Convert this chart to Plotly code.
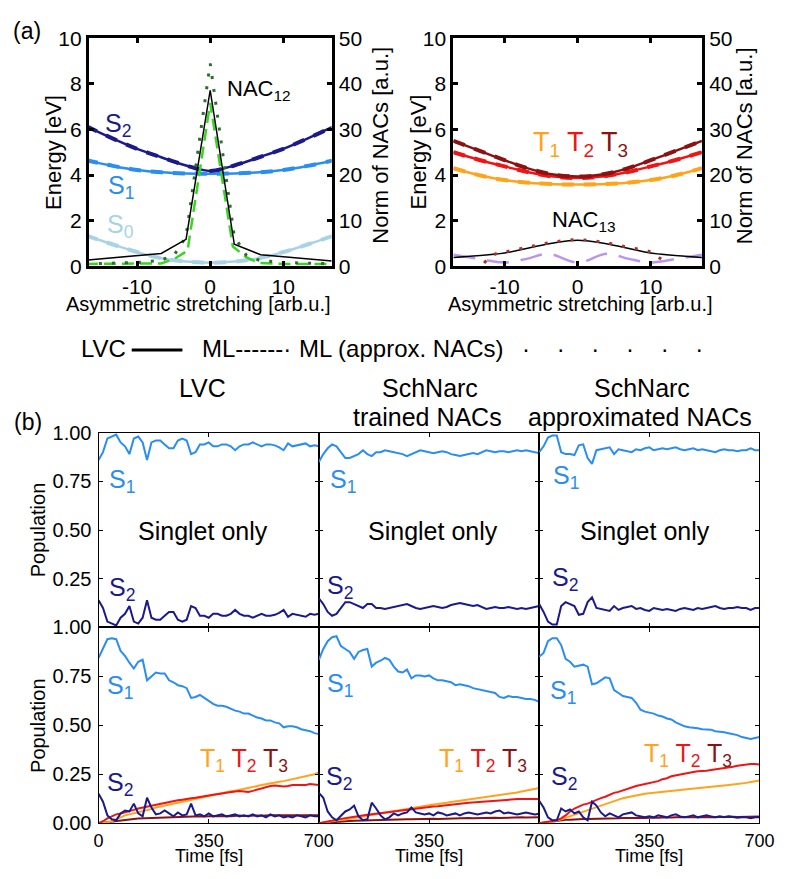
import plotly.graph_objects as go

W, H = 792, 879
FONT = "Liberation Sans, Arial, Helvetica, sans-serif"

# ---------------- (a) potential energy curves ----------------
X_GRID = [-17, -13.3, -10, -6.7, -3.3, 0, 3.3, 6.7, 10, 13.3, 17]
E_S0 = [1.35, 0.95, 0.62, 0.35, 0.2, 0.15, 0.2, 0.35, 0.62, 0.95, 1.35]
E_S1 = [4.65, 4.4, 4.22, 4.12, 4.07, 4.06, 4.07, 4.12, 4.22, 4.4, 4.65]
E_S2 = [6.15, 5.6, 5.15, 4.78, 4.42, 4.18, 4.42, 4.78, 5.15, 5.6, 6.15]
E_T1 = [4.3, 3.98, 3.78, 3.66, 3.6, 3.58, 3.6, 3.66, 3.78, 3.98, 4.3]
E_T2 = [5.0, 4.65, 4.38, 4.12, 3.93, 3.87, 3.93, 4.12, 4.38, 4.65, 5.0]
E_T3 = [5.5, 5.05, 4.65, 4.28, 4.02, 3.93, 4.02, 4.28, 4.65, 5.05, 5.5]

NAC12_LVC_X = [-17, -6.7, -3.3, 0, 3.3, 6.9, 17]
NAC12_LVC = [1.3, 2.8, 5.9, 38.6, 4.8, 2.5, 1.1]
NAC12_ML_X = [-17, -10, -6.7, -4.9, -3.1, 0, 3.1, 4.9, 6.7, 10, 17]
NAC12_ML = [0.5, 0.5, 0.6, 1.6, 3.4, 35.8, 4.3, 2.0, 0.7, 0.5, 0.5]
NAC12_APX_X = [-17, -10, -6.7, -4.9, -3.3, 0, 3.3, 4.9, 6.7, 10, 17]
NAC12_APX = [0.5, 0.8, 1.3, 2.5, 6.5, 44.5, 6.5, 2.5, 1.3, 0.8, 0.5]

NAC13_LVC_X = [-17, -10, -6.7, -3.3, 0, 3.3, 6.7, 10, 17]
NAC13_LVC = [1.9, 2.9, 4.0, 5.1, 5.7, 5.1, 4.0, 2.9, 1.9]
NAC13_ML_X = [-17, -13.5, -10, -7, -4, 0, 4, 7, 10, 13.5, 17]
NAC13_ML = [2.5, 1.6, 0.8, 1.6, 2.7, 0.8, 2.7, 1.6, 0.8, 1.6, 2.5]
NAC13_APX_X = [-12.8, -11.5, -10, -6.7, -3.3, 0, 3.3, 6.7, 10, 11.4, 12.5]
NAC13_APX = [0.7, 2.5, 3.1, 4.2, 5.3, 5.8, 5.3, 4.2, 3.1, 1.6, 0.7]

# ---------------- (b) populations ----------------
TIME = list(range(0, 701, 14))

LVC_SING_S1 = [0.86, 0.90, 0.97, 0.98, 0.99, 0.95, 0.93, 0.89, 0.97, 0.98,
               0.95, 0.86, 0.95, 0.96, 0.96, 0.94, 0.92, 0.92, 0.96, 0.97,
               0.96, 0.89, 0.90, 0.94, 0.94, 0.95, 0.93, 0.93, 0.94, 0.94,
               0.93, 0.91, 0.93, 0.94, 0.94, 0.95, 0.94, 0.93, 0.94, 0.94,
               0.935, 0.925, 0.91, 0.945, 0.93, 0.935, 0.94, 0.945, 0.93, 0.935,
               0.93]
LVC_SING_S2 = [0.14, 0.10, 0.03, 0.02, 0.01, 0.05, 0.07, 0.11, 0.03, 0.02,
               0.05, 0.14, 0.05, 0.04, 0.04, 0.06, 0.08, 0.08, 0.04, 0.03,
               0.04, 0.11, 0.10, 0.06, 0.06, 0.05, 0.07, 0.07, 0.06, 0.06,
               0.07, 0.09, 0.07, 0.06, 0.06, 0.05, 0.06, 0.07, 0.06, 0.06,
               0.065, 0.075, 0.09, 0.055, 0.07, 0.065, 0.06, 0.055, 0.07, 0.065,
               0.07]
TRN_SING_S1 = [0.85, 0.89, 0.92, 0.94, 0.93, 0.90, 0.87, 0.87, 0.88, 0.89,
               0.91, 0.89, 0.88, 0.90, 0.90, 0.91, 0.905, 0.90, 0.895, 0.89,
               0.88, 0.89, 0.90, 0.91, 0.905, 0.90, 0.895, 0.90, 0.905, 0.90,
               0.89, 0.885, 0.88, 0.885, 0.89, 0.895, 0.89, 0.90, 0.91, 0.905,
               0.90, 0.905, 0.905, 0.90, 0.905, 0.91, 0.905, 0.91, 0.905, 0.90,
               0.895]
TRN_SING_S2 = [0.15, 0.12, 0.08, 0.06, 0.07, 0.10, 0.13, 0.13, 0.12, 0.11,
               0.10, 0.12, 0.12, 0.10, 0.10, 0.095, 0.10, 0.105, 0.11, 0.115,
               0.12, 0.11, 0.10, 0.095, 0.10, 0.105, 0.11, 0.105, 0.10, 0.105,
               0.115, 0.12, 0.125, 0.12, 0.115, 0.11, 0.115, 0.105, 0.095, 0.10,
               0.105, 0.10, 0.10, 0.105, 0.10, 0.095, 0.10, 0.095, 0.10, 0.105,
               0.11]
APX_SING_S1 = [0.90, 0.93, 0.975, 0.985, 0.985, 0.90, 0.89, 0.89, 0.885, 0.935,
               0.94, 0.87, 0.84, 0.91, 0.915, 0.92, 0.925, 0.89, 0.915, 0.91,
               0.905, 0.90, 0.915, 0.91, 0.92, 0.925, 0.91, 0.915, 0.92, 0.915,
               0.92, 0.925, 0.915, 0.91, 0.915, 0.92, 0.91, 0.915, 0.91, 0.905,
               0.90, 0.91, 0.915, 0.91, 0.91, 0.905, 0.91, 0.91, 0.92, 0.91,
               0.91]
APX_SING_S2 = [0.12, 0.08, 0.03, 0.015, 0.015, 0.11, 0.13, 0.12, 0.11, 0.065,
               0.07, 0.13, 0.155, 0.10, 0.095, 0.09, 0.085, 0.11, 0.09, 0.10,
               0.105, 0.11, 0.095, 0.10, 0.09, 0.085, 0.10, 0.095, 0.09, 0.095,
               0.09, 0.085, 0.095, 0.10, 0.095, 0.09, 0.10, 0.095, 0.10, 0.105,
               0.11, 0.10, 0.095, 0.10, 0.10, 0.105, 0.10, 0.10, 0.09, 0.10,
               0.10]

LVC_S1 = [0.845, 0.89, 0.94, 0.945, 0.94, 0.88, 0.855, 0.82, 0.79, 0.825,
          0.835, 0.73, 0.75, 0.77, 0.765, 0.765, 0.73, 0.72, 0.705, 0.70,
          0.69, 0.64, 0.645, 0.655, 0.64, 0.625, 0.61, 0.60, 0.60, 0.595,
          0.585, 0.575, 0.57, 0.56, 0.56, 0.55, 0.54, 0.535, 0.525, 0.525,
          0.515, 0.51, 0.49, 0.495, 0.495, 0.49, 0.48, 0.475, 0.47, 0.46,
          0.455]
LVC_S2 = [0.15, 0.11, 0.04, 0.02, 0.015, 0.05, 0.065, 0.06, 0.10, 0.05,
          0.035, 0.13, 0.08, 0.045, 0.05, 0.065, 0.05, 0.035, 0.055, 0.04,
          0.045, 0.10, 0.04, 0.045, 0.035, 0.05, 0.035, 0.04, 0.045, 0.035,
          0.04, 0.045, 0.035, 0.04, 0.035, 0.045, 0.035, 0.04, 0.03, 0.045,
          0.035, 0.04, 0.03, 0.035, 0.03, 0.04, 0.035, 0.03, 0.04, 0.035,
          0.035]
LVC_T1 = [0, 0.002, 0.005, 0.01, 0.02, 0.03, 0.04, 0.045, 0.05, 0.055,
          0.06, 0.065, 0.072, 0.08, 0.085, 0.09, 0.095, 0.10, 0.105, 0.11,
          0.115, 0.12, 0.125, 0.13, 0.135, 0.14, 0.145, 0.15, 0.155, 0.16,
          0.163, 0.166, 0.17, 0.175, 0.18, 0.185, 0.19, 0.195, 0.20, 0.205,
          0.21, 0.212, 0.215, 0.22, 0.225, 0.23, 0.235, 0.24, 0.245, 0.25,
          0.26]
LVC_T2 = [0, 0.01, 0.025, 0.035, 0.045, 0.05, 0.055, 0.062, 0.068, 0.075,
          0.08, 0.085, 0.09, 0.095, 0.10, 0.105, 0.11, 0.113, 0.117, 0.12,
          0.125, 0.128, 0.13, 0.135, 0.14, 0.142, 0.145, 0.15, 0.152, 0.155,
          0.16, 0.162, 0.165, 0.163, 0.16, 0.165, 0.172, 0.18, 0.185, 0.19,
          0.192, 0.19, 0.188, 0.19, 0.195, 0.195, 0.195, 0.195, 0.20, 0.198,
          0.195]
LVC_T3 = [0, 0.003, 0.006, 0.01, 0.012, 0.015, 0.017, 0.02, 0.022, 0.024,
          0.025, 0.026, 0.025, 0.027, 0.028, 0.03, 0.03, 0.031, 0.03, 0.032,
          0.033, 0.032, 0.034, 0.035, 0.034, 0.036, 0.037, 0.036, 0.038, 0.037,
          0.036, 0.038, 0.039, 0.037, 0.038, 0.04, 0.039, 0.038, 0.04, 0.041,
          0.04, 0.039, 0.04, 0.041, 0.04, 0.039, 0.04, 0.041, 0.04, 0.04,
          0.04]

TRN_S1 = [0.835, 0.89, 0.93, 0.95, 0.955, 0.905, 0.89, 0.875, 0.84, 0.875,
          0.885, 0.89, 0.80, 0.82, 0.83, 0.845, 0.835, 0.80, 0.775, 0.77,
          0.785, 0.74, 0.755, 0.755, 0.75, 0.755, 0.74, 0.73, 0.73, 0.725,
          0.72, 0.705, 0.71, 0.705, 0.70, 0.69, 0.685, 0.68, 0.675, 0.67,
          0.665, 0.645, 0.64, 0.65, 0.645, 0.645, 0.64, 0.635, 0.635, 0.63,
          0.62]
TRN_S2 = [0.155, 0.13, 0.06, 0.03, 0.015, 0.04, 0.06, 0.07, 0.09, 0.035,
          0.015, 0.02, 0.105, 0.075, 0.04, 0.02, 0.03, 0.05, 0.04, 0.05,
          0.055, 0.08, 0.055, 0.05, 0.045, 0.05, 0.04, 0.055, 0.05, 0.04,
          0.045, 0.05, 0.04, 0.05, 0.055, 0.05, 0.045, 0.05, 0.055, 0.05,
          0.06, 0.065, 0.05, 0.055, 0.05, 0.045, 0.05, 0.055, 0.05, 0.045,
          0.048]
TRN_T1 = [0, 0.003, 0.006, 0.01, 0.013, 0.016, 0.02, 0.023, 0.027, 0.03,
          0.034, 0.038, 0.042, 0.046, 0.05, 0.054, 0.058, 0.062, 0.066, 0.07,
          0.074, 0.078, 0.082, 0.085, 0.088, 0.092, 0.095, 0.098, 0.10, 0.104,
          0.108, 0.111, 0.114, 0.117, 0.12, 0.123, 0.127, 0.13, 0.133, 0.136,
          0.14, 0.143, 0.147, 0.15, 0.153, 0.157, 0.162, 0.166, 0.17, 0.175,
          0.18]
TRN_T2 = [0, 0.005, 0.01, 0.014, 0.018, 0.022, 0.026, 0.03, 0.034, 0.037,
          0.04, 0.043, 0.046, 0.049, 0.052, 0.055, 0.058, 0.061, 0.064, 0.067,
          0.07, 0.072, 0.075, 0.077, 0.08, 0.082, 0.085, 0.087, 0.09, 0.092,
          0.095, 0.097, 0.10, 0.102, 0.104, 0.106, 0.108, 0.11, 0.112, 0.114,
          0.116, 0.118, 0.12, 0.121, 0.122, 0.123, 0.124, 0.124, 0.124, 0.124,
          0.123]
TRN_T3 = [0, 0.002, 0.004, 0.006, 0.008, 0.009, 0.01, 0.011, 0.012, 0.013,
          0.014, 0.015, 0.015, 0.016, 0.017, 0.017, 0.018, 0.018, 0.019, 0.019,
          0.02, 0.02, 0.021, 0.021, 0.022, 0.022, 0.023, 0.022, 0.023, 0.024,
          0.024, 0.025, 0.024, 0.025, 0.026, 0.025, 0.026, 0.027, 0.026, 0.027,
          0.028, 0.027, 0.028, 0.029, 0.028, 0.029, 0.03, 0.029, 0.03, 0.03,
          0.03]

APX_S1 = [0.85, 0.87, 0.93, 0.945, 0.945, 0.91, 0.84, 0.825, 0.80, 0.805,
          0.81, 0.80, 0.71, 0.715, 0.73, 0.745, 0.74, 0.68, 0.665, 0.65,
          0.645, 0.64, 0.615, 0.58, 0.57, 0.565, 0.56, 0.55, 0.545, 0.535,
          0.53, 0.515, 0.505, 0.495, 0.49, 0.488, 0.485, 0.48, 0.48, 0.478,
          0.47, 0.468, 0.465, 0.46, 0.456, 0.45, 0.44, 0.435, 0.43, 0.435,
          0.44]
APX_S2 = [0.115, 0.08, 0.03, 0.015, 0.015, 0.075, 0.06, 0.07, 0.05, 0.06,
          0.03, 0.015, 0.11, 0.09, 0.055, 0.035, 0.05, 0.04, 0.03, 0.045,
          0.05, 0.055, 0.04, 0.035, 0.03, 0.035, 0.03, 0.04, 0.035, 0.03,
          0.04, 0.045, 0.035, 0.03, 0.035, 0.04, 0.03, 0.035, 0.04, 0.035,
          0.03, 0.035, 0.03, 0.035, 0.03, 0.028, 0.03, 0.03, 0.025, 0.03,
          0.03]
APX_T1 = [0, 0.002, 0.004, 0.007, 0.012, 0.02, 0.028, 0.036, 0.044, 0.052,
          0.06, 0.068, 0.076, 0.084, 0.092, 0.10, 0.108, 0.115, 0.122, 0.128,
          0.133, 0.138, 0.142, 0.146, 0.15, 0.153, 0.156, 0.159, 0.161, 0.164,
          0.166, 0.168, 0.17, 0.172, 0.174, 0.176, 0.178, 0.18, 0.183, 0.186,
          0.188, 0.19, 0.192, 0.195, 0.198, 0.20, 0.203, 0.206, 0.21, 0.214,
          0.218]
APX_T2 = [0, 0.003, 0.006, 0.01, 0.015, 0.025, 0.04, 0.06, 0.075, 0.085,
          0.095, 0.10, 0.11, 0.12, 0.128, 0.135, 0.145, 0.155, 0.16, 0.168,
          0.175, 0.185, 0.19, 0.195, 0.20, 0.205, 0.21, 0.215, 0.225, 0.23,
          0.24, 0.245, 0.25, 0.255, 0.26, 0.262, 0.265, 0.266, 0.268, 0.272,
          0.275, 0.278, 0.28, 0.283, 0.288, 0.293, 0.297, 0.30, 0.302, 0.303,
          0.30]
APX_T3 = [0, 0.003, 0.006, 0.01, 0.012, 0.015, 0.017, 0.018, 0.02, 0.02,
          0.021, 0.022, 0.022, 0.023, 0.023, 0.024, 0.024, 0.025, 0.025, 0.026,
          0.025, 0.026, 0.027, 0.026, 0.027, 0.028, 0.027, 0.028, 0.029, 0.028,
          0.029, 0.03, 0.029, 0.03, 0.031, 0.03, 0.031, 0.032, 0.031, 0.032,
          0.031, 0.032, 0.033, 0.032, 0.033, 0.032, 0.033, 0.034, 0.033, 0.034,
          0.034]

X_TICKS_A = [-10, 0, 10]
X_TICKTEXT_A = ["-10", "0", "10"]
E_TICKS = [0, 2, 4, 6, 8, 10]
NAC_TICKS = [0, 10, 20, 30, 40, 50]
T_TICKS = [0, 350, 700]
P_TICKS = [0, 0.25, 0.5, 0.75, 1.0]
P_TICKTEXT = ["0.00", "0.25", "0.50", "0.75", "1.00"]
COL_TITLES = [("LVC", ""), ("SchNarc", "trained NACs"), ("SchNarc", "approximated NACs")]

# colours
C_S0 = "#a8d3e6"
C_S1 = "#2a8df0"
C_S2 = "#1a1a8a"
C_T1 = "#ffa31a"
C_T2 = "#f01414"
C_T3 = "#8b1212"
C_ML12 = "#3ad424"
C_APX12 = "#2c6e2c"
C_ML13 = "#b994f2"
C_APX13 = "#a83232"


def fx(p):
    return p / W


def fy(p):
    return 1 - p / H


fig = go.Figure()


def line(x, y, xa, ya, color, width=2, dash="solid", shape="linear"):
    fig.add_trace(go.Scatter(x=x, y=y, xaxis=xa, yaxis=ya, mode="lines",
                             line=dict(color=color, width=width, dash=dash, shape=shape),
                             showlegend=False, hoverinfo="skip"))


# top-left energies (LVC solid + ML dashed)
for e, c in [(E_S0, C_S0), (E_S1, C_S1), (E_S2, C_S2)]:
    line(X_GRID, e, "x", "y", c, 2.5, "solid", "spline")
    line(X_GRID, e, "x", "y", c, 4, "12px,10px", "spline")
line(NAC12_ML_X, NAC12_ML, "x", "y2", C_ML12, 2.5, "12px,6px")
line(NAC12_APX_X, NAC12_APX, "x", "y2", C_APX12, 3, "3px,10px")
line(NAC12_LVC_X, NAC12_LVC, "x", "y2", "black", 1.5)

# top-right energies
for e, c in [(E_T1, C_T1), (E_T2, C_T2), (E_T3, C_T3)]:
    line(X_GRID, e, "x2", "y3", c, 2.5, "solid", "spline")
    line(X_GRID, e, "x2", "y3", c, 4, "12px,10px", "spline")
line(NAC13_ML_X, NAC13_ML, "x2", "y4", C_ML13, 2.5, "22px,12px", "spline")
line(NAC13_LVC_X, NAC13_LVC, "x2", "y4", "black", 1.5, "solid", "spline")
line(NAC13_APX_X, NAC13_APX, "x2", "y4", C_APX13, 3, "3px,10px", "spline")

# population panels
panels = [
    ("x3", "y5", [(LVC_SING_S1, C_S1), (LVC_SING_S2, C_S2)]),
    ("x4", "y6", [(TRN_SING_S1, C_S1), (TRN_SING_S2, C_S2)]),
    ("x5", "y7", [(APX_SING_S1, C_S1), (APX_SING_S2, C_S2)]),
    ("x6", "y8", [(LVC_T3, C_T3), (LVC_T1, C_T1), (LVC_T2, C_T2), (LVC_S1, C_S1), (LVC_S2, C_S2)]),
    ("x7", "y9", [(TRN_T3, C_T3), (TRN_T1, C_T1), (TRN_T2, C_T2), (TRN_S1, C_S1), (TRN_S2, C_S2)]),
    ("x8", "y10", [(APX_T3, C_T3), (APX_T1, C_T1), (APX_T2, C_T2), (APX_S1, C_S1), (APX_S2, C_S2)]),
]
for xa, ya, series in panels:
    for vals, c in series:
        line(TIME, vals, xa, ya, c, 2)

# ---------------- layout ----------------
tick_font_a = dict(family=FONT, size=21, color="black")
tick_font_b = dict(family=FONT, size=20, color="black")
tick_font_bx = dict(family=FONT, size=18, color="black")

top_dom = [fy(261), fy(27)]
layout = dict(
    width=W, height=H, margin=dict(l=0, r=0, t=0, b=0),
    paper_bgcolor="white", plot_bgcolor="white",
    font=dict(family=FONT, color="black"),
)


def xa_top(dom, rng, anchor):
    return dict(domain=dom, range=rng, anchor=anchor, showgrid=False, zeroline=False,
                showline=True, linecolor="black", linewidth=3, mirror="ticks",
                ticks="inside", ticklen=5, tickwidth=3, tickcolor="black",
                tickvals=X_TICKS_A, ticktext=X_TICKTEXT_A, tickfont=tick_font_a)


def ya_top(anchor):
    return dict(domain=top_dom, range=[0, 10], anchor=anchor, showgrid=False, zeroline=False,
                showline=True, linecolor="black", linewidth=3, mirror=True,
                ticks="inside", ticklen=5, tickwidth=3, tickcolor="black",
                tickvals=E_TICKS, tickfont=tick_font_a)


def ya_nac(over, anchor):
    return dict(overlaying=over, side="right", anchor=anchor, range=[0, 50], showgrid=False,
                zeroline=False, showline=True, linecolor="black", linewidth=3,
                ticks="inside", ticklen=5, tickwidth=3, tickcolor="black",
                tickvals=NAC_TICKS, tickfont=tick_font_a)


layout["xaxis"] = xa_top([fx(86), fx(335)], [-16.6, 16.6], "y")
layout["yaxis"] = ya_top("x")
layout["yaxis2"] = ya_nac("y", "x")
layout["xaxis2"] = xa_top([fx(460), fx(715)], [-17, 17], "y3")
layout["yaxis3"] = ya_top("x2")
layout["yaxis4"] = ya_nac("y3", "x2")

col_px = [(96, 322), (322, 548), (548, 774)]
row_px = [(432, 632), (632, 833)]
k = 3
for r, (yt, yb) in enumerate(row_px):
    for c, (xl, xr) in enumerate(col_px):
        xname = "xaxis%d" % k
        yname = "yaxis%d" % (k + 2)
        if r == 1:
            xtext = ["0", "350", "700"] if c == 0 else ["", "350", "700"]
        else:
            xtext = ["", "", ""]
        layout[xname] = dict(domain=[fx(xl), fx(xr)], range=[0, 700], anchor="y%d" % (k + 2),
                             showgrid=False, zeroline=False, showline=True, linecolor="black",
                             linewidth=1.2, mirror="ticks", ticks="inside", ticklen=4,
                             tickcolor="black", tickvals=T_TICKS, ticktext=xtext,
                             tickfont=tick_font_bx, ticklabelstandoff=1)
        if c == 0:
            ytext = P_TICKTEXT if r == 1 else [""] + P_TICKTEXT[1:]
        else:
            ytext = [""] * 5
        layout[yname] = dict(domain=[fy(yb), fy(yt)], range=[0, 1], anchor="x%d" % k,
                             showgrid=False, zeroline=False, showline=True, linecolor="black",
                             linewidth=1.2, mirror="ticks", ticks="inside", ticklen=4,
                             tickcolor="black", tickvals=P_TICKS, ticktext=ytext,
                             tickfont=tick_font_b, ticklabelstandoff=2)
        k += 1

fig.update_layout(**layout)

# ---------------- annotations ----------------
anns = []


def ann(x, y, text, size, color="black", angle=0, xanchor="center", yanchor="middle"):
    anns.append(dict(x=fx(x), y=fy(y), xref="paper", yref="paper", text=text,
                     showarrow=False, textangle=angle, xanchor=xanchor, yanchor=yanchor,
                     font=dict(family=FONT, size=size, color=color)))


def sub(s, n, color):
    return '<span style="color:%s">%s<sub>%s</sub></span>' % (color, s, n)


ann(23, 20, "(a)", 23)
ann(24, 421, "(b)", 23)

# axis titles (a)
ann(49, 144, "Energy [eV]", 22, angle=-90)
ann(385, 137, "Norm of NACs [a.u.]", 22, angle=-90)
ann(424, 144, "Energy [eV]", 22, angle=-90)
ann(759, 137, "Norm of NACs [a.u.]", 22, angle=-90)
ann(199, 300, "Asymmetric stretching [arb.u.]", 20)
ann(590, 300, "Asymmetric stretching [arb.u.]", 20)

# state labels (a)
ann(116, 116, sub("S", "2", C_S2), 25)
ann(119, 180, sub("S", "1", C_S1), 25)
ann(118, 220, sub("S", "0", C_S0), 25)
ann(261, 80, "NAC<sub>12</sub>", 22)
ann(590, 136, sub("T", "1", C_T1) + " " + sub("T", "2", C_T2) + " " + sub("T", "3", C_T3), 27)
ann(594, 215, "NAC<sub>13</sub>", 22)

# legend row
ann(76, 346, "LVC", 24, xanchor="left")
ann(200, 346, "ML------·", 24, xanchor="left")
ann(300, 346, "ML (approx. NACs)", 24, xanchor="left")
ann(528, 346, "·    ·    ·    ·    ·    ·", 24, xanchor="left")

# column titles
title_x = [203, 436, 654]
for (l1, l2), tx in zip(COL_TITLES, title_x):
    ann(tx, 386, l1, 25)
    if l2:
        ann(tx - 3, 416, l2, 25)

# population panel labels
ann(34, 532, "Population", 20, angle=-90)
ann(34, 733, "Population", 20, angle=-90)
s1_pos = [(120, 482), (347, 482), (576, 477)]
s2_pos = [(120, 593), (344, 590), (575, 582)]
for (x1, y1), (x2, y2) in zip(s1_pos, s2_pos):
    ann(x1, y1, sub("S", "1", C_S1), 25)
    ann(x2, y2, sub("S", "2", C_S2), 25)
for cx in [203, 439, 657]:
    ann(cx, 533, "Singlet only", 25)
s1_pos_b = [(118, 693), (344, 691), (572, 698)]
s2_pos_b = [(118, 793), (343, 787), (573, 787)]
t_pos_b = [(245, 768), (490, 768), (701, 763)]
for (x1, y1), (x2, y2), (x3, y3) in zip(s1_pos_b, s2_pos_b, t_pos_b):
    ann(x1, y1, sub("S", "1", C_S1), 25)
    ann(x2, y2, sub("S", "2", C_S2), 25)
    ann(x3, y3, sub("T", "1", C_T1) + " " + sub("T", "2", C_T2) + " " + sub("T", "3", C_T3), 25)
for (xl, xr) in col_px:
    ann((xl + xr) / 2, 879, "Time [fs]", 18, yanchor="bottom")

fig.update_layout(annotations=anns)

# legend sample line for LVC (solid)
fig.add_shape(type="line", xref="paper", yref="paper", x0=fx(130), x1=fx(182),
              y0=fy(347), y1=fy(347), line=dict(color="black", width=3))

fig.write_html("out.html")
